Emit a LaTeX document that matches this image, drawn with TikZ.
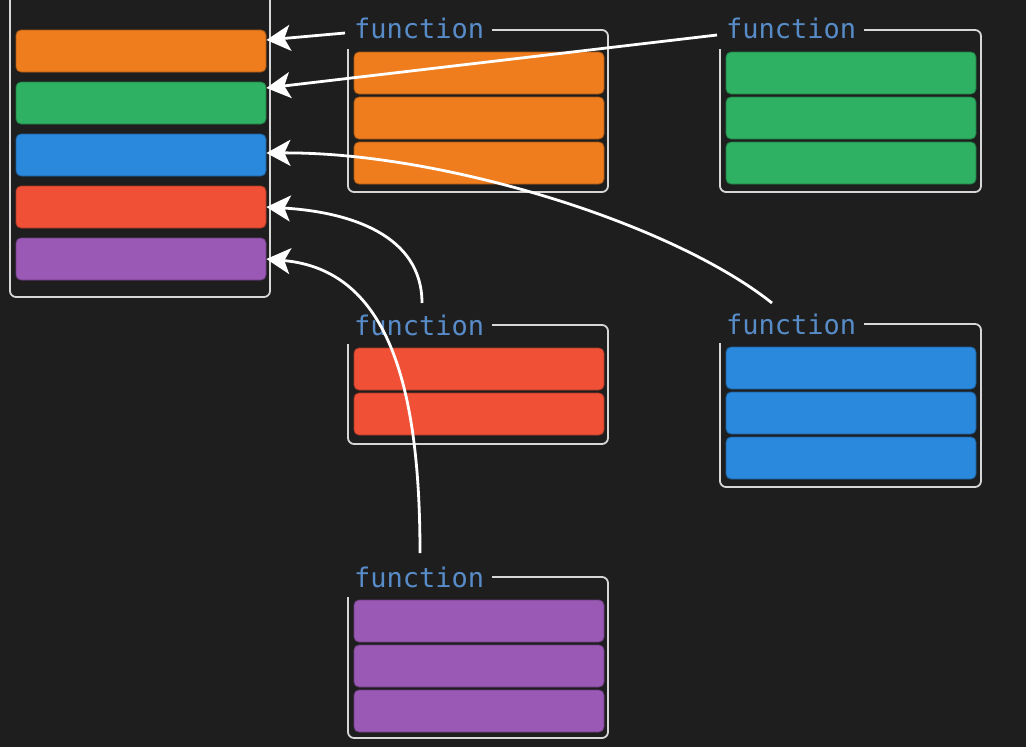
\documentclass[tikz,border=0pt]{standalone}
\usepackage{fontspec}
\usepackage{tikz}
\usetikzlibrary{arrows.meta, positioning}
\newfontfamily\codefont{DejaVu Sans Mono}
\definecolor{bgdark}{RGB}{30,30,30}
\definecolor{framegray}{RGB}{215,215,215}
\definecolor{labelblue}{RGB}{88,140,200}
\definecolor{cOrange}{RGB}{239,125,30}
\definecolor{cGreen}{RGB}{47,177,99}
\definecolor{cBlue}{RGB}{42,136,221}
\definecolor{cRed}{RGB}{240,81,54}
\definecolor{cPurple}{RGB}{155,89,182}

\begin{document}
\begin{tikzpicture}[x=1pt, y=-1pt,
    bar/.style={draw=#1!70!black, fill=#1, line width=0.8pt, rounded corners=5pt,
      minimum width=250pt, minimum height=42pt, inner sep=0pt},
    frame/.style={draw=framegray, line width=1.8pt, rounded corners=6pt},
    fnlabel/.style={text=labelblue, font=\codefont\fontsize{27}{30}\selectfont,
      inner sep=0pt, anchor=base west},
    arr/.style={draw=white, line width=2.8pt,
      -{Stealth[length=24pt 0 0, width=26pt 0 0, inset=6pt 0]}}]
      \fill[bgdark] (0,0) rectangle (1026,747);
      \useasboundingbox (0,0) rectangle (1026,747);

      \draw[frame] (10,-10) -- (10,297) -- (270,297) -- (270,-10);
      \foreach \c [count=\i] in {cOrange, cGreen, cBlue, cRed, cPurple}
      \node[bar=\c] (m\i) at (141,{51+52*(\i-1)}) {};

      \node[fnlabel] (fA) at (354,38) {function};
      \draw[frame] (348,49) -- (348,192) -- (608,192) -- (608,30) -- (492,30);
      \foreach \j in {0,1,2}
      \node[bar=cOrange] (a\j) at (479,{73+45*\j}) {};

      \node[fnlabel] (fB) at (726,38) {function};
      \draw[frame] (720,49) -- (720,192) -- (981,192) -- (981,30) -- (864,30);
      \foreach \j in {0,1,2}
      \node[bar=cGreen] (b\j) at (851,{73+45*\j}) {};

      \node[fnlabel] (fC) at (354,335) {function};
      \draw[frame] (348,344) -- (348,444) -- (608,444) -- (608,325) -- (492,325);
      \foreach \j in {0,1}
      \node[bar=cRed] (c\j) at (479,{369+45*\j}) {};

      \node[fnlabel] (fD) at (726,334) {function};
      \draw[frame] (720,343) -- (720,487) -- (981,487) -- (981,324) -- (864,324);
      \foreach \j in {0,1,2}
      \node[bar=cBlue] (d\j) at (851,{368+45*\j}) {};

      \node[fnlabel] (fE) at (354,587) {function};
      \draw[frame] (348,597) -- (348,738) -- (608,738) -- (608,577) -- (492,577);
      \foreach \j in {0,1,2}
      \node[bar=cPurple] (e\j) at (479,{621+45*\j}) {};

      \coordinate (sA) at (345,33);
      \coordinate (sB) at (717,35);
      \coordinate (sC) at (422,303);
      \coordinate (sD) at (772,303);
      \coordinate (sE) at (420,553);
      \draw[arr] (sA) -- ([yshift=11pt]m1.east);
      \draw[arr] (sB) -- ([yshift=15pt]m2.east);
      \draw[arr] (sD) .. controls (670,222) and (440,152) .. ([yshift=2pt]m3.east);
      \draw[arr] (sC) .. controls (422,235) and (350,212) .. (m4.east);
      \draw[arr] (sE) .. controls (420,390) and (390,270) .. (m5.east);
    \end{tikzpicture}
\end{document}
